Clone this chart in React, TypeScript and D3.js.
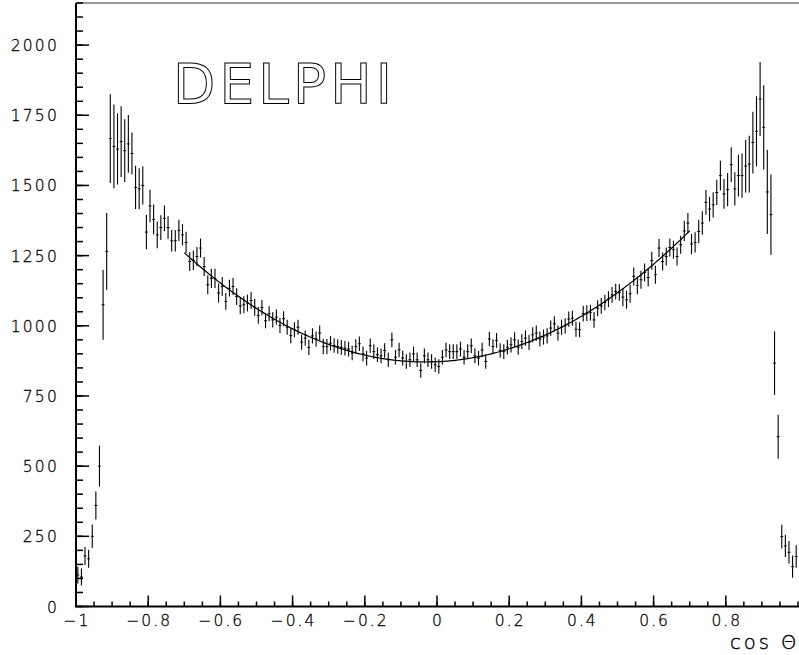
import React from 'react';
import * as d3 from 'd3';

// ---- data ----
const X_DOMAIN = [-1, 1];
const Y_DOMAIN = [0, 2150];
const BIN_LOW = -1;
const BIN_WIDTH = 0.01;

const counts = [
  112, 105, 180, 170, 250, 360, 500, 1075, 1265,
  1667, 1639, 1630, 1656, 1624, 1648, 1614, 1493, 1488, 1500,
  1334, 1427, 1379, 1324, 1350, 1383, 1350, 1303, 1303, 1340,
  1324, 1297, 1229, 1233, 1247, 1277, 1211, 1146, 1169, 1169,
  1117, 1140, 1087, 1134, 1140, 1104, 1071, 1075, 1081, 1090, 1066,
  1037, 1065, 1018, 1043, 1021, 1031, 1001, 1025, 995, 965,
  986, 995, 942, 956, 923, 964, 953, 974, 926, 926,
  938, 930, 926, 923, 920, 917, 903, 926, 936, 900,
  885, 929, 908, 897, 893, 912, 879, 950, 888, 914,
  885, 873, 879, 900, 879, 841, 893, 879, 873, 861,
  855, 888, 914, 908, 908, 908, 917, 888, 908, 929,
  893, 885, 914, 873, 953, 926, 948, 912, 908, 924,
  932, 950, 924, 944, 956, 941, 968, 974, 953, 960,
  964, 992, 1007, 974, 995, 1000, 1024, 1027, 988, 986,
  1043, 1045, 1047, 1021, 1063, 1071, 1083, 1095, 1110, 1122,
  1119, 1102, 1093, 1114, 1176, 1144, 1164, 1190, 1172, 1232,
  1182, 1277, 1229, 1247, 1279, 1271, 1247, 1289, 1338, 1366,
  1291, 1297, 1336, 1366, 1440, 1416, 1431, 1475, 1535, 1470,
  1485, 1574, 1488, 1535, 1535, 1569, 1576, 1653, 1693, 1808,
  1707, 1477, 1396, 867, 605, 249, 216, 193, 142, 178,
];

const errors = [
  30, 30, 32, 32, 42, 50, 73, 125, 137,
  158, 149, 127, 126, 112, 103, 75, 77, 73, 68,
  61, 58, 53, 48, 44, 46, 40, 38, 38, 38,
  38, 38, 34, 34, 34, 34, 34, 34, 34, 34,
  34, 34, 30, 30, 30, 30, 30, 30, 30, 30, 30,
  30, 27, 27, 27, 27, 27, 27, 27, 27, 27,
  27, 27, 27, 27, 27, 27, 27, 27, 27, 27,
  26, 26, 26, 26, 26, 26, 26, 26, 26, 26,
  26, 26, 26, 26, 26, 26, 26, 26, 26, 26,
  26, 26, 26, 26, 26, 26, 26, 26, 26, 26,
  26, 26, 26, 26, 26, 26, 26, 26, 26, 26,
  26, 26, 26, 26, 26, 26, 26, 26, 26, 26,
  27, 27, 27, 27, 27, 27, 27, 27, 27, 27,
  27, 27, 27, 27, 27, 27, 27, 27, 27, 27,
  28, 28, 28, 28, 28, 28, 28, 28, 28, 28,
  30, 32, 32, 32, 32, 32, 32, 32, 32, 32,
  32, 32, 32, 32, 32, 32, 32, 32, 36, 36,
  36, 36, 42, 42, 44, 44, 45, 45, 53, 53,
  59, 62, 59, 74, 79, 94, 101, 110, 125, 132,
  150, 150, 143, 113, 78, 42, 40, 40, 40, 40,
];

// fit: A (1 + c^2) + B c
const FIT_A = 872;
const FIT_B = 56;
const FIT_RANGE = [-0.7, 0.7];

const xMajorTicks = [-1, -0.8, -0.6, -0.4, -0.2, 0, 0.2, 0.4, 0.6, 0.8];
const xTickLabels = ['\u22121', '\u22120.8', '\u22120.6', '\u22120.4', '\u22120.2', '0', '0.2', '0.4', '0.6', '0.8'];
const yMajorTicks = [0, 250, 500, 750, 1000, 1250, 1500, 1750, 2000];
const yTickLabels = ['0', '250', '500', '750', '1000', '1250', '1500', '1750', '2000'];
const X_MINOR_STEP = 0.05;
const Y_MINOR_STEP = 50;

const TITLE = 'DELPHI';
const X_TITLE = 'cos \u0398';

export default function App() {
  const W = 799, H = 655;
  const left = 76, right = 798, top = 3, bottom = 606.5;
  const x = d3.scaleLinear().domain(X_DOMAIN).range([left, right]);
  const y = d3.scaleLinear().domain(Y_DOMAIN).range([bottom, top]);

  const xMinor = d3.range(X_DOMAIN[0], X_DOMAIN[1] + 1e-9, X_MINOR_STEP);
  const yMinor = d3.range(Y_DOMAIN[0], Y_DOMAIN[1] + 1e-9, Y_MINOR_STEP);

  const fitFn = (c: number) => FIT_A * (1 + c * c) + FIT_B * c;
  const fitPts = d3.range(FIT_RANGE[0], FIT_RANGE[1] + 1e-9, 0.005).map((c) => [c, fitFn(c)] as [number, number]);
  const line = d3.line<[number, number]>().x((d) => x(d[0])).y((d) => y(d[1]));

  const font = "'DejaVu Sans', sans-serif";
  const halfTick = (x(BIN_WIDTH) - x(0)) * 0.4;

  return (
    <svg width={W} height={H} style={{ position: 'absolute', left: 0, top: 0, background: '#fff' }}>
      {/* frame */}
      <line x1={left} x2={W} y1={top} y2={top} stroke="#333" strokeWidth={1.2} />
      <line x1={left} x2={left} y1={top} y2={bottom} stroke="#000" strokeWidth={2} />
      <line x1={left - 1} x2={W} y1={bottom} y2={bottom} stroke="#000" strokeWidth={2} />

      {/* x ticks */}
      {xMinor.map((v, i) => (
        <line key={'xm' + i} x1={x(v)} x2={x(v)} y1={bottom} y2={bottom - 5} stroke="#000" strokeWidth={1.5} />
      ))}
      {xMajorTicks.map((v, i) => (
        <line key={'xM' + i} x1={x(v)} x2={x(v)} y1={bottom} y2={bottom - 11} stroke="#000" strokeWidth={1.5} />
      ))}
      {xMajorTicks.map((v, i) => (
        <text key={'xl' + i} x={x(v) + 1} y={626} textAnchor="middle" fontFamily={font} fontWeight={200}
          fontSize={15.5} letterSpacing={2} fill="#000" stroke="#000" strokeWidth={0.3}>{xTickLabels[i]}</text>
      ))}

      {/* y ticks */}
      {yMinor.map((v, i) => (
        <line key={'ym' + i} x1={left} x2={left + 7} y1={y(v)} y2={y(v)} stroke="#000" strokeWidth={1.5} />
      ))}
      {yMajorTicks.map((v, i) => (
        <line key={'yM' + i} x1={left} x2={left + 13} y1={y(v)} y2={y(v)} stroke="#000" strokeWidth={1.5} />
      ))}
      {yMajorTicks.map((v, i) => (
        <text key={'yl' + i} x={59} y={y(v) + 6} textAnchor="end" fontFamily={font} fontWeight={200}
          fontSize={15.5} letterSpacing={2.2} fill="#000" stroke="#000" strokeWidth={0.3}>{yTickLabels[i]}</text>
      ))}

      {/* data points with error bars */}
      {counts.map((v, i) => {
        const c = BIN_LOW + BIN_WIDTH * (i + 0.5);
        const cx = x(c);
        const e = errors[i];
        return (
          <g key={'p' + i}>
            <line x1={cx} x2={cx} y1={y(v - e)} y2={y(v + e)} stroke="#000" strokeWidth={1.1} />
            <line x1={cx - halfTick} x2={cx + halfTick} y1={y(v)} y2={y(v)} stroke="#000" strokeWidth={1} />
          </g>
        );
      })}

      {/* fit curve */}
      <path d={line(fitPts) || ''} fill="none" stroke="#000" strokeWidth={1.2} />

      {/* titles */}
      <text x={173} y={103} fontFamily={font} fontSize={55} fill="#fff" stroke="#000" strokeWidth={1}
        textLength={219} lengthAdjust="spacing">{TITLE}</text>
      <text x={730} y={649} fontFamily={font} fontWeight={200} fontSize={19.5} letterSpacing={3} fill="#000"
        stroke="#000" strokeWidth={0.4}>{X_TITLE}</text>
    </svg>
  );
}
